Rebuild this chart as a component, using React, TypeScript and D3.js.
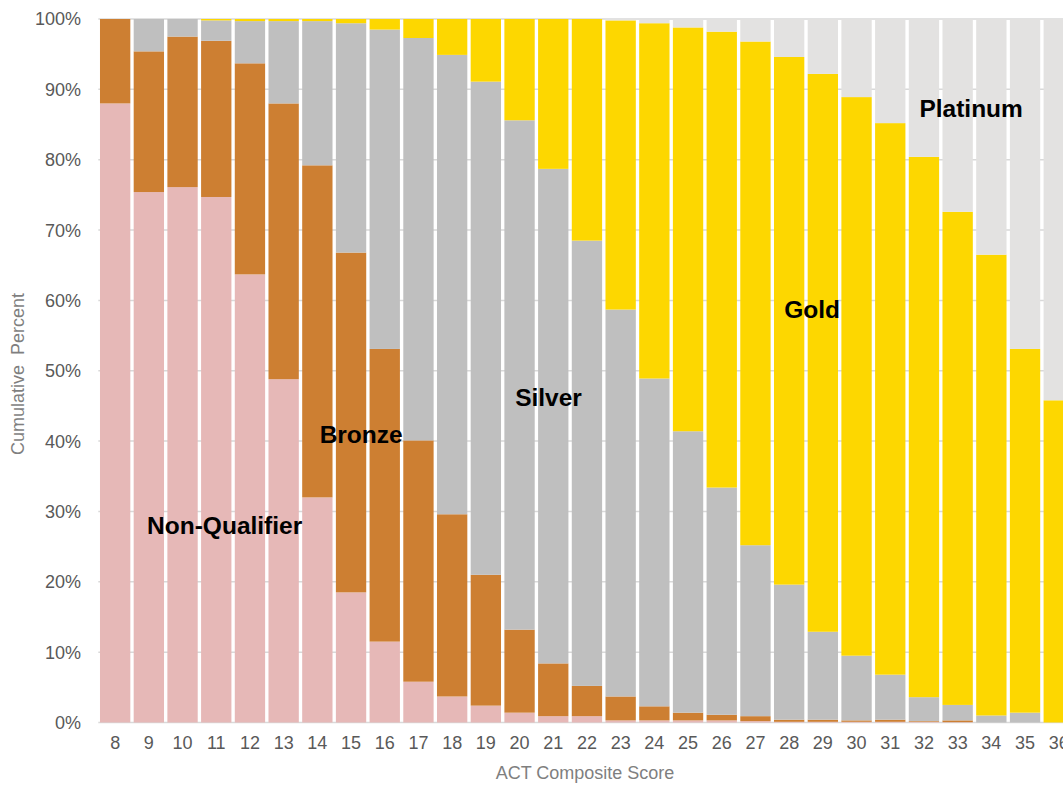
import React from 'react'
import * as d3 from 'd3'

// ACT composite score, share of students in each tier (%)
const scores = ['8', '9', '10', '11', '12', '13', '14', '15', '16', '17', '18', '19', '20', '21', '22', '23', '24', '25', '26', '27', '28', '29', '30', '31', '32', '33', '34', '35', '36']
const nonQualifier = [88.0, 75.4, 76.1, 74.7, 63.7, 48.8, 32.0, 18.5, 11.5, 5.8, 3.7, 2.4, 1.4, 0.9, 0.9, 0.3, 0.3, 0.3, 0.3, 0.2, 0.1, 0.1, 0.1, 0.1, 0.1, 0.05, 0, 0, 0]
const bronze = [12.0, 20.0, 21.4, 22.2, 30.0, 39.2, 47.2, 48.3, 41.6, 34.3, 25.9, 18.6, 11.8, 7.5, 4.3, 3.4, 2.0, 1.1, 0.8, 0.7, 0.3, 0.3, 0.2, 0.3, 0.1, 0.25, 0, 0, 0]
const silver = [0, 4.6, 2.5, 2.9, 6.0, 11.7, 20.5, 32.6, 45.4, 57.2, 65.3, 70.1, 72.4, 70.3, 63.3, 55.0, 46.6, 40.0, 32.3, 24.3, 19.2, 12.5, 9.2, 6.4, 3.4, 2.2, 1.0, 1.4, 0]
const gold = [0, 0, 0, 0.2, 0.3, 0.3, 0.3, 0.6, 1.5, 2.7, 5.1, 8.9, 14.4, 21.3, 31.5, 41.1, 50.5, 57.4, 64.8, 71.6, 75.0, 79.3, 79.4, 78.4, 76.8, 70.1, 65.5, 51.7, 45.8]
const platinum = [0, 0, 0, 0, 0, 0, 0, 0, 0, 0, 0, 0, 0, 0, 0, 0.2, 0.6, 1.2, 1.8, 3.2, 5.4, 7.8, 11.1, 14.8, 19.6, 27.4, 33.5, 46.9, 54.2]

const tiers = ['Non-Qualifier', 'Bronze', 'Silver', 'Gold', 'Platinum']
const tierColors = ['#e6b8b7', '#cd7f32', '#bfbfbf', '#fdd700', '#e3e2e1']
const yTicks = [0, 10, 20, 30, 40, 50, 60, 70, 80, 90, 100]

const W = 1063
const H = 785

const App = () => {
  const rows = scores.map((s, i) => ({
    score: s,
    'Non-Qualifier': nonQualifier[i],
    Bronze: bronze[i],
    Silver: silver[i],
    Gold: gold[i],
    Platinum: platinum[i],
  }))
  const stacked = d3.stack<any>().keys(tiers)(rows)

  const x = d3.scaleBand().domain(scores).range([98.3, 1075.6]).paddingInner(0.1).paddingOuter(0.05)
  const y = d3.scaleLinear().domain([0, 100]).range([722.5, 19])

  // where the tier names sit: [name, score, percent]
  const labels: [string, number, number][] = [
    ['Non-Qualifier', 11.25, 26.8],
    ['Bronze', 15.3, 39.7],
    ['Silver', 20.86, 45.0],
    ['Gold', 28.68, 57.5],
    ['Platinum', 33.4, 86.1],
  ]
  const xNum = d3.scaleLinear().domain([8, 36]).range([x('8')! + x.bandwidth() / 2, x('36')! + x.bandwidth() / 2])

  return (
    <div style={{ position: 'absolute', left: 0, top: 0 }}>
      <svg width={W} height={H} style={{ display: 'block', fontFamily: 'Arial, "Liberation Sans", sans-serif' }}>
        <rect width={W} height={H} fill="#fff" />
        {yTicks.map((t) => (
          <g key={t}>
            <line x1={98.3} x2={W} y1={y(t)} y2={y(t)} stroke="#d9d9d9" strokeWidth={1.5} />
            <text x={81} y={y(t)} dy="0.36em" textAnchor="end" fontSize={18} fill="#595959">{t}%</text>
          </g>
        ))}
        {stacked.map((layer, li) => (
          <g key={layer.key} fill={tierColors[li]}>
            {layer.map((d, i) => (
              <rect
                key={i}
                x={x(scores[i])}
                width={x.bandwidth()}
                y={y(d[1])}
                height={Math.max(0, y(d[0]) - y(d[1]))}
              />
            ))}
          </g>
        ))}
        {scores.map((s) => (
          <text key={s} x={x(s)! + x.bandwidth() / 2} y={749} textAnchor="middle" fontSize={18} fill="#595959">{s}</text>
        ))}
        <text x={585} y={779} textAnchor="middle" fontSize={18} fill="#7f7f7f">ACT Composite Score</text>
        <text transform="translate(24,374) rotate(-90)" textAnchor="middle" fontSize={18} fill="#7f7f7f" style={{ whiteSpace: 'pre' }}>Cumulative  Percent</text>
        {labels.map(([name, s, p]) => (
          <text key={name} x={xNum(s)} y={y(p)} textAnchor="middle" fontSize={24.5} fontWeight="bold" fill="#000">{name}</text>
        ))}
      </svg>
    </div>
  )
}

export default App
